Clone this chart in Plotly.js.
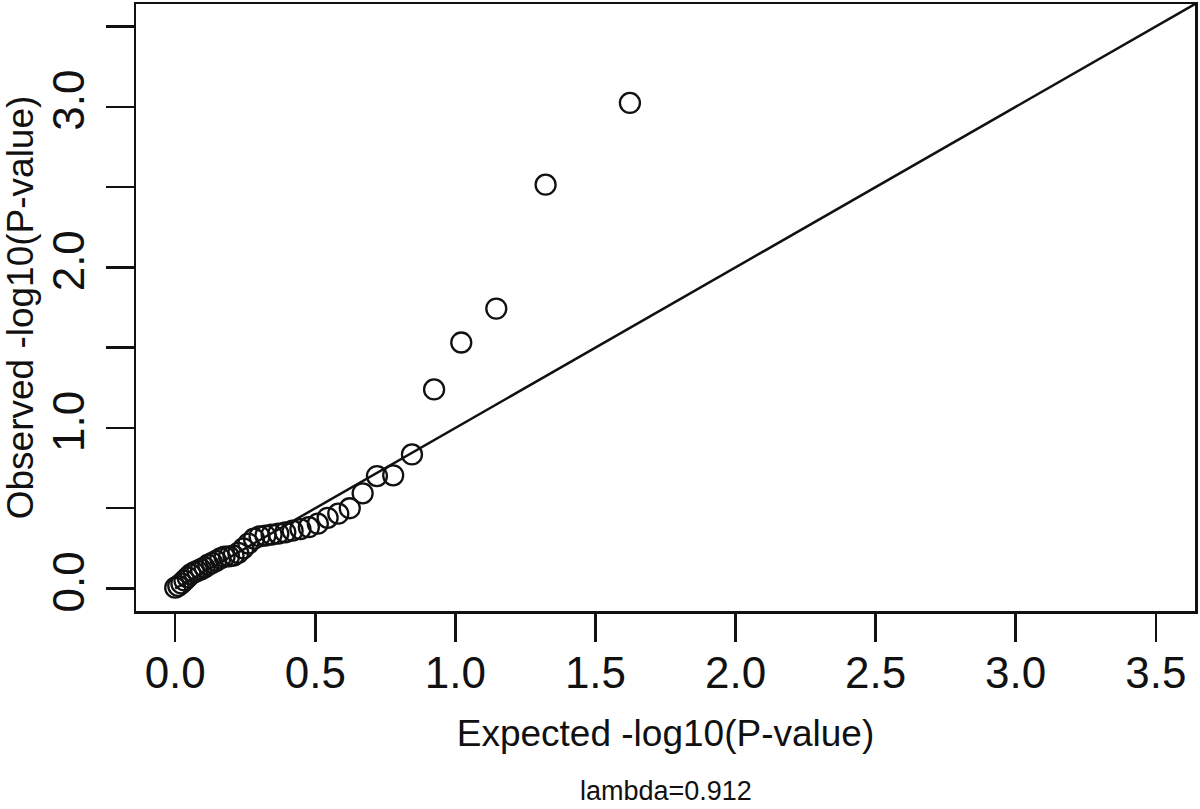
<!DOCTYPE html>
<html>
<head>
<meta charset="utf-8">
<script src="https://cdn.plot.ly/plotly-3.0.1.min.js"></script>
<style>
  html, body { margin: 0; padding: 0; background: #ffffff; }
  #chart { width: 1200px; height: 809px; }
</style>
</head>
<body>
<div id="chart"></div>
<script>
// Expected -log10(P) (x) and observed -log10(P) (y)
const expected = [1.623, 1.322, 1.146, 1.021, 0.924, 0.845, 0.778, 0.720, 0.669, 0.623,
                  0.582, 0.544, 0.509, 0.477, 0.447, 0.419, 0.393, 0.368, 0.344, 0.322,
                  0.301, 0.281, 0.261, 0.243, 0.225, 0.208, 0.192, 0.176, 0.161, 0.146,
                  0.132, 0.118, 0.105, 0.092, 0.079, 0.067, 0.055, 0.044, 0.033, 0.022,
                  0.011, 0.000];
const observed = [3.024, 2.515, 1.743, 1.532, 1.240, 0.835, 0.705, 0.700, 0.593, 0.500,
                  0.466, 0.440, 0.404, 0.382, 0.370, 0.360, 0.350, 0.342, 0.336, 0.330,
                  0.325, 0.310, 0.280, 0.250, 0.222, 0.205, 0.200, 0.198, 0.188, 0.172,
                  0.160, 0.148, 0.132, 0.120, 0.110, 0.100, 0.088, 0.070, 0.050, 0.032,
                  0.016, 0.005];
const identityLine = [0, 3.7];
const xTickVals = [0, 0.5, 1, 1.5, 2, 2.5, 3, 3.5];
const xTickText = ["0.0", "0.5", "1.0", "1.5", "2.0", "2.5", "3.0", "3.5"];
const yTickVals = [0, 0.5, 1, 1.5, 2, 2.5, 3, 3.5];
const yTickText = ["0.0", "", "1.0", "", "2.0", "", "3.0", ""];
const lambdaLabel = "lambda=0.912";

const FONT = "Liberation Sans, Arial, sans-serif";
const INK = "#111111";

const traces = [
  {
    x: expected, y: observed, type: "scatter", mode: "markers",
    marker: { symbol: "circle-open", size: 20, color: INK, line: { width: 2.3, color: INK } },
    hoverinfo: "x+y", showlegend: false
  },
  {
    x: identityLine, y: identityLine, type: "scatter", mode: "lines",
    line: { color: INK, width: 2.5 }, hoverinfo: "skip", showlegend: false
  }
];

const axisCommon = {
  range: [-0.14, 3.64],
  showgrid: false, zeroline: false,
  showline: true, mirror: true, linecolor: INK, linewidth: 2.5,
  ticks: "outside", ticklen: 28, tickwidth: 2.5, tickcolor: INK,
  tickmode: "array",
  tickfont: { family: FONT, size: 44, color: INK },
  automargin: false, fixedrange: true
};

const layout = {
  width: 1200, height: 809,
  margin: { l: 136, r: 5, t: 4, b: 198 },
  paper_bgcolor: "#ffffff", plot_bgcolor: "#ffffff",
  font: { family: FONT, color: INK },
  xaxis: Object.assign({}, axisCommon, {
    tickvals: xTickVals, ticktext: xTickText, ticklabelstandoff: -6,
    title: { text: "Expected -log10(P-value)", font: { family: FONT, size: 37, color: INK }, standoff: 24 }
  }),
  yaxis: Object.assign({}, axisCommon, {
    tickvals: yTickVals, ticktext: yTickText, tickangle: -90, ticklabelstandoff: 4,
    title: { text: "Observed -log10(P-value)", font: { family: FONT, size: 37, color: INK }, standoff: 8 }
  }),
  annotations: [
    {
      text: lambdaLabel, xref: "paper", yref: "paper", x: 0.5, y: -0.296,
      xanchor: "center", yanchor: "middle", showarrow: false,
      font: { family: FONT, size: 27, color: INK }
    }
  ]
};

Plotly.newPlot("chart", traces, layout, { displayModeBar: false, staticPlot: true });
</script>
</body>
</html>
